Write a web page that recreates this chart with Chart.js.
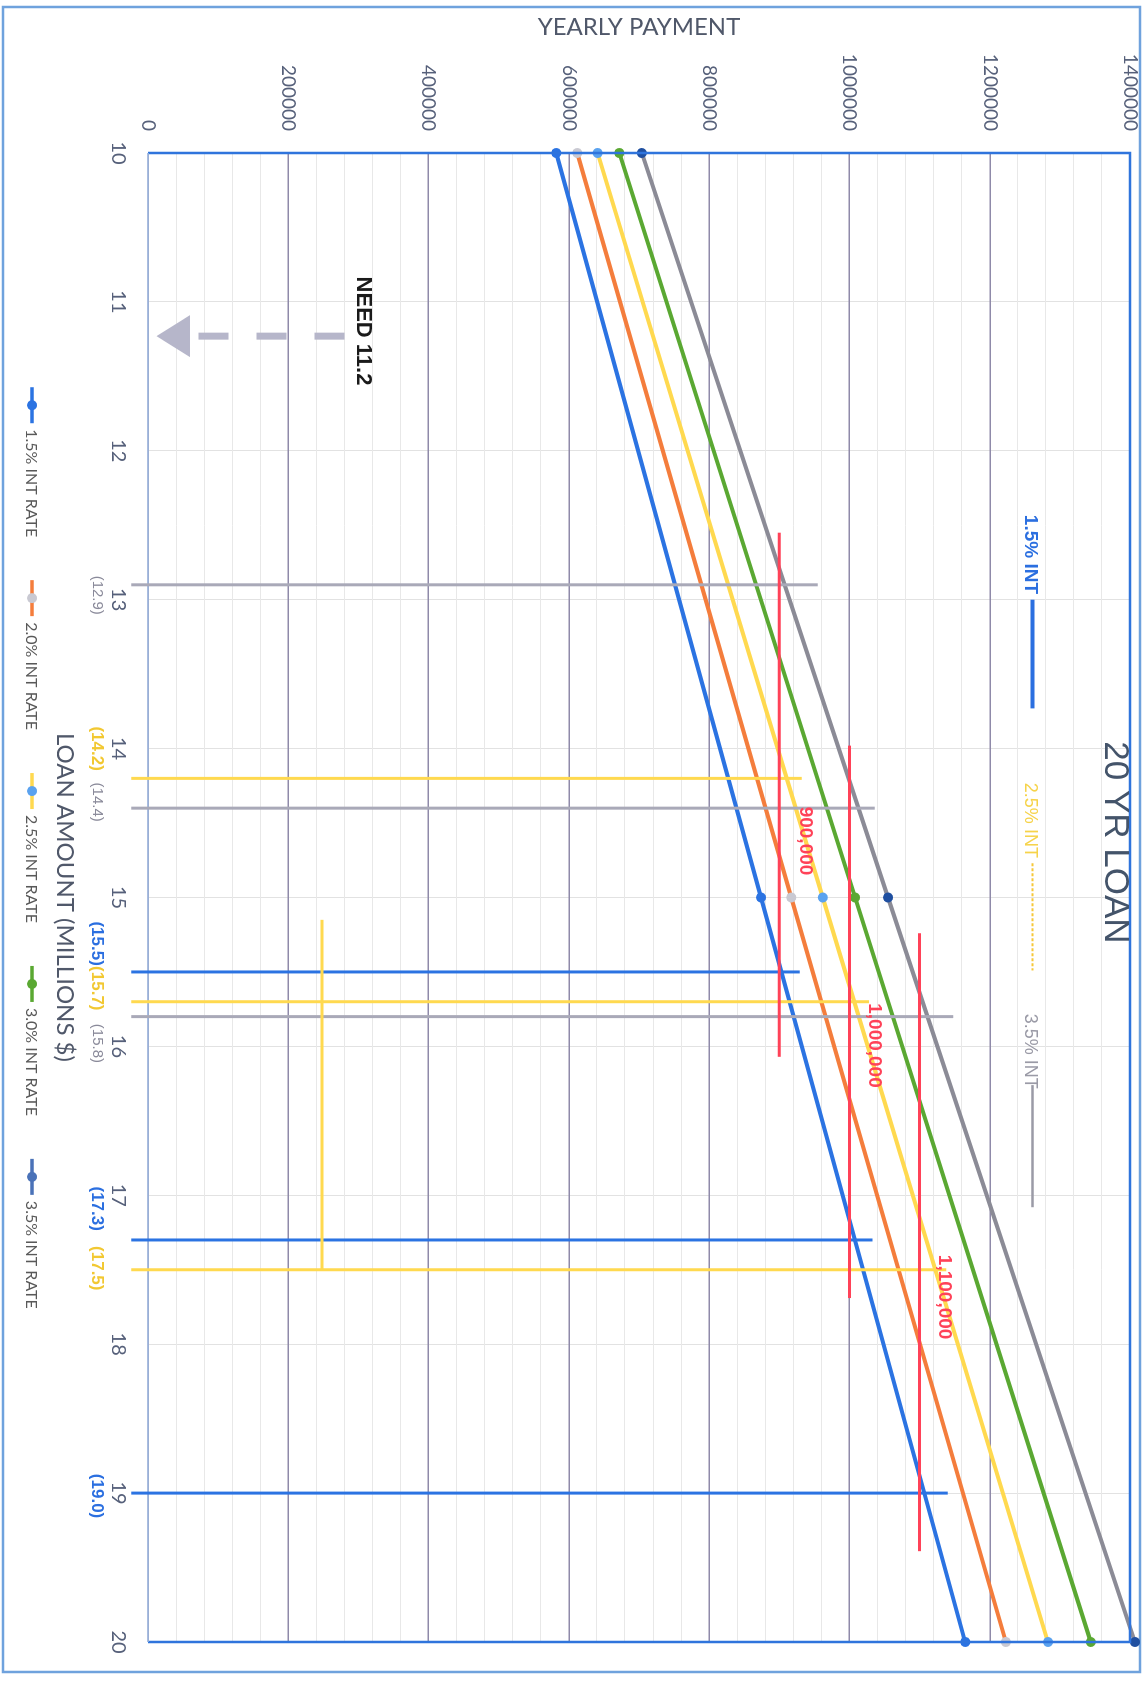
<!DOCTYPE html>
<html>
<head>
<meta charset="utf-8">
<title>20 YR LOAN</title>
<script src="https://cdn.jsdelivr.net/npm/chart.js@4.4.1/dist/chart.umd.min.js"></script>
<style>
  html, body { margin: 0; padding: 0; background: #ffffff; overflow: hidden; }
  /* the chart is laid out landscape and turned a quarter turn clockwise */
  #wrap {
    position: absolute; left: 0; top: 0;
    width: 1682px; height: 1147px;
    transform-origin: 0 0;
    transform: translate(1147px, 0) rotate(90deg);
  }
  canvas { display: block; }
</style>
</head>
<body>
<div id="wrap"><canvas id="loanChart" width="1682" height="1147"></canvas></div>
<script>
// ---- data -------------------------------------------------------------
// loan amount in millions of dollars
const loanAmounts = [10, 15, 20];

// yearly payment on a 20 year loan, per interest rate
const pay15 = [582000, 874000, 1165000];
const pay20 = [612000, 917000, 1223000];
const pay25 = [641000, 962000, 1283000];
const pay30 = [672000, 1008000, 1344000];
const pay35 = [704000, 1055000, 1407000];

const seriesLabels = ['1.5% INT RATE', '2.0% INT RATE', '2.5% INT RATE', '3.0% INT RATE', '3.5% INT RATE'];
const seriesValues = [pay15, pay20, pay25, pay30, pay35];

// axis ticks
const paymentTicks = [0, 200000, 400000, 600000, 800000, 1000000, 1200000, 1400000];
const loanTicks = [10, 11, 12, 13, 14, 15, 16, 17, 18, 19, 20];

const markLoans   = [12.9, 14.2, 14.4, 15.5, 15.7, 15.8, 17.3, 17.5, 19.0];
const markReach   = [955000, 932000, 1036000, 929000, 1028000, 1148000, 1033000, 1138000, 1140000];
const markRate    = ['3.5', '2.5', '3.5', '1.5', '2.5', '3.5', '1.5', '2.5', '1.5'];
const markLabelAt = [12.97, 14.0, 14.36, 15.31, 15.61, 15.98, 17.09, 17.49, 19.02];

// payment targets and the loan span each target line covers
const targetPayments = [900000, 1000000, 1100000];
const targetFrom     = [12.55, 13.98, 15.24];
const targetTo       = [16.07, 17.69, 19.39];
const targetLabelAt  = [14.39, 15.71, 17.40];
const targetLabelPay = [937000, 1036000, 1135000];

// yellow range bar for the 2.5% rate
const rangeFrom = 15.15, rangeTo = 17.5, rangePay = 248000;

// required loan amount
const needLoan = 11.2;

// ---- styling ----------------------------------------------------------
const lineColors   = ['#2b73e2', '#f47d3c', '#ffd94f', '#5aa832', '#8b8b96'];
const markerColors = ['#2b73e2', '#c9c9d2', '#5aa2ef', '#5aa832', '#1f4fa0'];
const legendColors = ['#2b73e2', '#f47d3c', '#ffd94f', '#5aa832', '#4a72b8'];
const rateColor = { '1.5': '#2b73e2', '2.5': '#ffd94f', '3.5': '#a9a9b8' };
const rateLabelColor = { '1.5': '#2b6fe0', '2.5': '#f2c832', '3.5': '#8a8a9a' };
const RED = '#ff4258';
const SANS = 'Lato, "Liberation Sans", sans-serif';
const ARIAL = '"Liberation Sans", Arial, sans-serif';

Chart.defaults.font.family = SANS;

const datasets = seriesLabels.map((label, i) => ({
  label,
  data: loanAmounts.map((x, k) => ({ x, y: seriesValues[i][k] })),
  borderColor: lineColors[i],
  backgroundColor: markerColors[i],
  pointBackgroundColor: markerColors[i],
  pointBorderColor: markerColors[i],
  pointBorderWidth: 0,
  pointRadius: 5,
  borderWidth: 4,
  tension: 0,
  fill: false,
  clip: false
}));

// annotations, hand-drawn legend and plot frame
const notesPlugin = {
  id: 'loanNotes',
  beforeDraw(chart) {
    const { ctx, width, height } = chart;
    ctx.save();
    ctx.fillStyle = '#ffffff';
    ctx.fillRect(0, 0, width, height);
    ctx.strokeStyle = '#6fa2dd';
    ctx.lineWidth = 2.5;
    ctx.strokeRect(7, 7, width - 17, height - 10);
    ctx.restore();
  },
  afterDatasetsDraw(chart) {
    const { ctx, chartArea: a } = chart;
    const X = v => chart.scales.x.getPixelForValue(v);
    const Y = v => chart.scales.y.getPixelForValue(v);
    ctx.save();

    // plot frame
    ctx.lineWidth = 2.5;
    ctx.strokeStyle = '#2f74dc';
    ctx.beginPath();
    ctx.moveTo(a.left, a.bottom); ctx.lineTo(a.left, a.top);
    ctx.lineTo(a.right, a.top); ctx.lineTo(a.right, a.bottom);
    ctx.stroke();
    ctx.lineWidth = 1.5;
    ctx.strokeStyle = '#9fbbe4';
    ctx.beginPath(); ctx.moveTo(a.left, a.bottom); ctx.lineTo(a.right, a.bottom); ctx.stroke();

    // loan amount markers
    ctx.lineWidth = 3;
    markLoans.forEach((loan, i) => {
      ctx.strokeStyle = rateColor[markRate[i]];
      ctx.beginPath();
      ctx.moveTo(X(loan), Y(-24000));
      ctx.lineTo(X(loan), Y(markReach[i]));
      ctx.stroke();
    });

    // 2.5% range bar
    ctx.strokeStyle = rateColor['2.5'];
    ctx.beginPath(); ctx.moveTo(X(rangeFrom), Y(rangePay)); ctx.lineTo(X(rangeTo), Y(rangePay)); ctx.stroke();

    // payment targets
    ctx.strokeStyle = RED;
    ctx.lineWidth = 3;
    targetPayments.forEach((p, i) => {
      ctx.beginPath(); ctx.moveTo(X(targetFrom[i]), Y(p)); ctx.lineTo(X(targetTo[i]), Y(p)); ctx.stroke();
    });
    ctx.font = 'bold 19px ' + ARIAL;
    ctx.fillStyle = RED;
    ctx.textAlign = 'left';
    ctx.textBaseline = 'middle';
    targetPayments.forEach((p, i) => {
      ctx.fillText(p.toLocaleString('en-US'), X(targetLabelAt[i]), Y(targetLabelPay[i]));
    });

    // loan amount labels under the axis
    ctx.textAlign = 'center';
    markLoans.forEach((loan, i) => {
      const r = markRate[i];
      ctx.font = (r === '3.5' ? '' : 'bold ') + (r === '3.5' ? '15px ' : '17px ') + ARIAL;
      ctx.fillStyle = rateLabelColor[r];
      ctx.fillText('(' + loan.toFixed(1) + ')', X(markLabelAt[i]), a.bottom + 51);
    });

    // required loan amount
    ctx.font = 'bold 22px ' + ARIAL;
    ctx.fillStyle = '#1a1a1a';
    ctx.textAlign = 'left';
    ctx.fillText('NEED ' + needLoan.toFixed(1), X(10.83), Y(306000));
    ctx.strokeStyle = '#b6b6ca';
    ctx.fillStyle = '#b6b6ca';
    ctx.lineWidth = 7;
    ctx.setLineDash([30, 28]);
    ctx.beginPath(); ctx.moveTo(X(needLoan + 0.03), Y(280000)); ctx.lineTo(X(needLoan + 0.03), Y(58000)); ctx.stroke();
    ctx.setLineDash([]);
    const ax = X(needLoan + 0.03), tipY = Y(12000), baseY = Y(60000);
    ctx.beginPath(); ctx.moveTo(ax, tipY); ctx.lineTo(ax - 21, baseY); ctx.lineTo(ax + 21, baseY); ctx.closePath(); ctx.fill();

    // rate key inside the plot
    const keyPay = 1258000;
    ctx.textBaseline = 'middle';
    ctx.font = 'bold 19px ' + ARIAL;
    ctx.fillStyle = '#2b6fe0';
    ctx.fillText('1.5% INT', X(12.43), Y(keyPay));
    ctx.strokeStyle = '#2b6fe0'; ctx.lineWidth = 4;
    ctx.beginPath(); ctx.moveTo(X(13.0), Y(keyPay + 3000)); ctx.lineTo(X(13.73), Y(keyPay + 3000)); ctx.stroke();

    ctx.font = '18px ' + ARIAL;
    ctx.fillStyle = '#f6d34a';
    ctx.fillText('2.5% INT', X(14.23), Y(keyPay));
    ctx.strokeStyle = '#f6c838'; ctx.lineWidth = 2;
    ctx.setLineDash([3, 2]);
    ctx.beginPath(); ctx.moveTo(X(14.77), Y(keyPay + 3000)); ctx.lineTo(X(15.49), Y(keyPay + 3000)); ctx.stroke();
    ctx.setLineDash([]);

    ctx.fillStyle = '#9a9aa6';
    ctx.fillText('3.5% INT', X(15.78), Y(keyPay));
    ctx.strokeStyle = '#9a9aa6'; ctx.lineWidth = 2.5;
    ctx.beginPath(); ctx.moveTo(X(16.26), Y(keyPay + 3000)); ctx.lineTo(X(17.08), Y(keyPay + 3000)); ctx.stroke();

    // chart title
    ctx.font = '35px ' + ARIAL;
    ctx.fillStyle = '#44546a';
    ctx.textAlign = 'center';
    ctx.fillText('20 YR LOAN', X(14.63), Y(1378000));

    // legend
    ctx.font = '16px ' + SANS;
    const lineLen = 36, gap = 6, spacing = 43;
    const widths = seriesLabels.map(t => ctx.measureText(t).width);
    const total = widths.reduce((s, w) => s + lineLen + gap + w, 0) + spacing * (seriesLabels.length - 1);
    let lx = chart.width / 2 + 7 - total / 2;
    const ly = 1115;
    ctx.textAlign = 'left';
    seriesLabels.forEach((t, i) => {
      ctx.strokeStyle = legendColors[i];
      ctx.lineWidth = 3.5;
      ctx.beginPath(); ctx.moveTo(lx, ly); ctx.lineTo(lx + lineLen, ly); ctx.stroke();
      ctx.fillStyle = i === 1 ? '#c9c9d2' : (i === 2 ? '#5aa2ef' : legendColors[i]);
      ctx.beginPath(); ctx.arc(lx + lineLen / 2, ly, 5, 0, Math.PI * 2); ctx.fill();
      ctx.fillStyle = '#595959';
      ctx.fillText(t, lx + lineLen + gap, ly + 1);
      lx += lineLen + gap + widths[i] + spacing;
    });

    ctx.restore();
  }
};

new Chart(document.getElementById('loanChart'), {
  type: 'line',
  data: { datasets },
  plugins: [notesPlugin],
  options: {
    responsive: false,
    animation: false,
    devicePixelRatio: 1,
    layout: { padding: { left: 0, right: 40, top: 17, bottom: 0 } },
    plugins: {
      legend: { display: false },
      tooltip: { enabled: false },
      title: { display: false }
    },
    scales: {
      x: {
        type: 'linear',
        min: loanTicks[0],
        max: loanTicks[loanTicks.length - 1],
        afterBuildTicks: s => { s.ticks = loanTicks.map(v => ({ value: v })); },
        afterFit: s => { s.height = 148; },
        ticks: { color: '#56607a', font: { size: 20 }, padding: 0, maxRotation: 0, autoSkip: false },
        grid: { color: '#e2e2e2', lineWidth: 1, drawTicks: true, tickLength: 18, tickColor: 'rgba(0,0,0,0)' },
        border: { display: false },
        title: {
          display: true,
          text: 'LOAN AMOUNT (MILLIONS $)',
          color: '#50586a',
          font: { size: 24 },
          padding: { top: 0, bottom: 50 }
        }
      },
      y: {
        type: 'linear',
        min: paymentTicks[0],
        max: paymentTicks[paymentTicks.length - 1],
        afterBuildTicks: s => {
          // major ticks every 200000 with four light minor lines between them
          const t = [];
          for (let i = 0; i < paymentTicks.length; i++) {
            t.push({ value: paymentTicks[i] });
            if (i < paymentTicks.length - 1) {
              const step = (paymentTicks[i + 1] - paymentTicks[i]) / 5;
              for (let k = 1; k < 5; k++) t.push({ value: paymentTicks[i] + step * k, minor: true });
            }
          }
          s.ticks = t;
        },
        afterFit: s => { s.width = 153; },
        ticks: {
          color: '#56607a',
          font: { size: 19 },
          padding: 0,
          autoSkip: false,
          callback: v => (paymentTicks.includes(v) ? String(v) : '')
        },
        grid: {
          drawTicks: true,
          tickLength: 22,
          tickColor: 'rgba(0,0,0,0)',
          color: c => (c.tick && paymentTicks.includes(c.tick.value) ? '#8f8aa9' : '#e8e8e8'),
          lineWidth: c => (c.tick && paymentTicks.includes(c.tick.value) ? 1.6 : 1)
        },
        border: { display: false },
        title: {
          display: true,
          text: 'YEARLY PAYMENT',
          color: '#50586a',
          font: { size: 24 },
          padding: { top: 13, bottom: 0 }
        }
      }
    }
  }
});
</script>
</body>
</html>
